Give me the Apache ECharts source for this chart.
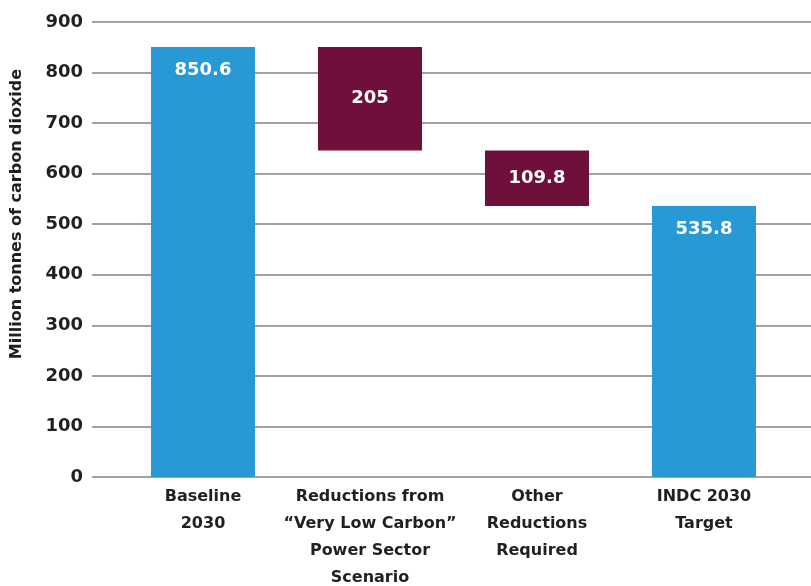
<!DOCTYPE html>
<html>
<head>
<meta charset="utf-8">
<script src="https://cdn.jsdelivr.net/npm/echarts@6/dist/echarts.min.js"></script>
<style>
  html, body { margin: 0; padding: 0; background: #fff; }
  #chart { width: 811px; height: 586px; }
</style>
</head>
<body>
<div id="chart"></div>
<script>
// chart data
var categories = [
    'Baseline\n2030',
    'Reductions from\n\u201cVery Low Carbon\u201d\nPower Sector\nScenario',
    'Other\nReductions\nRequired',
    'INDC 2030\nTarget'
];
var values = [850.6, 205, 109.8, 535.8];
var isTotal = [true, false, false, true];
var yTicks = [0, 100, 200, 300, 400, 500, 600, 700, 800, 900];
var yTitle = 'Million tonnes of carbon dioxide';

// running total for the floating reduction bars
var base = [];
var running = 0;
values.forEach(function (v, i) {
    if (isTotal[i]) {
        base.push(0);
        running = v;
    } else {
        running = running - v;
        base.push(running);
    }
});

var blue = '#2899d5';
var maroon = '#6f0f3b';
var textColor = '#231f20';
var font = '"DejaVu Sans", sans-serif';

var chart = echarts.init(document.getElementById('chart'), null, { renderer: 'canvas' });

var option = {
    animation: false,
    grid: [
        { left: 92, right: 0, top: 22, bottom: 109, outerBoundsMode: 'none' },
        { left: 119.5, right: 23.5, top: 22, bottom: 109, outerBoundsMode: 'none' }
    ],
    // y title sits higher than the plot middle in the original
    graphic: [{
        type: 'text',
        x: 17,
        y: 214,
        rotation: Math.PI / 2,
        style: {
            text: yTitle,
            fill: textColor,
            font: 'bold 16px "DejaVu Sans", sans-serif',
            align: 'center',
            verticalAlign: 'middle'
        }
    }],
    xAxis: [
        { gridIndex: 0, type: 'value', show: false, min: 0, max: 1 },
        {
            gridIndex: 1,
            type: 'category',
            data: categories,
            axisLine: { show: false },
            axisTick: { show: false },
            axisLabel: {
                interval: 0,
                margin: 6,
                color: textColor,
                fontFamily: font,
                fontWeight: 'bold',
                fontSize: 16,
                lineHeight: 27
            }
        }
    ],
    yAxis: [
        {
            gridIndex: 0,
            type: 'value',
            min: yTicks[0],
            max: yTicks[yTicks.length - 1],
            interval: 100,
            axisLine: { show: false },
            axisTick: { show: false },
            axisLabel: {
                margin: 9,
                color: textColor,
                fontFamily: font,
                fontWeight: 'bold',
                fontSize: 18
            },
            splitLine: { lineStyle: { color: '#828282', width: 1.5 } }
        },
        {
            gridIndex: 1,
            type: 'value',
            min: yTicks[0],
            max: yTicks[yTicks.length - 1],
            show: false,
            splitLine: { show: false }
        }
    ],
    series: [
        {
            type: 'bar',
            xAxisIndex: 1,
            yAxisIndex: 1,
            stack: 'wf',
            barWidth: 104,
            itemStyle: { color: 'transparent' },
            silent: true,
            data: base
        },
        {
            type: 'bar',
            xAxisIndex: 1,
            yAxisIndex: 1,
            stack: 'wf',
            barWidth: 104,
            data: values.map(function (v, i) {
                return {
                    value: v,
                    itemStyle: { color: isTotal[i] ? blue : maroon },
                    label: isTotal[i]
                        ? { position: 'insideTop', distance: 14 }
                        : { position: 'inside' }
                };
            }),
            label: {
                show: true,
                color: '#fff',
                fontFamily: font,
                fontWeight: 'bold',
                fontSize: 18
            }
        }
    ]
};

chart.setOption(option);
</script>
</body>
</html>
